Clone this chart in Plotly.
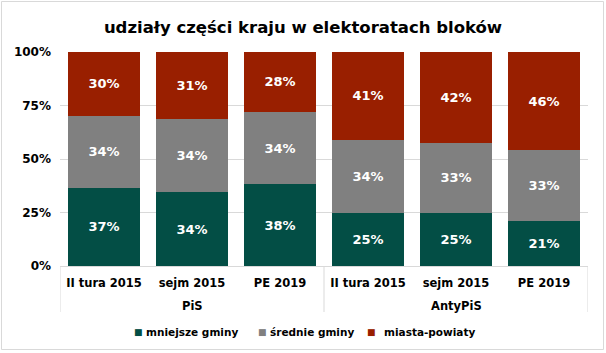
import plotly.graph_objects as go

group_names = ["PiS", "AntyPiS"]
groups = ["PiS", "PiS", "PiS", "AntyPiS", "AntyPiS", "AntyPiS"]
elections = ["II tura 2015", "sejm 2015", "PE 2019", "II tura 2015", "sejm 2015", "PE 2019"]
mniejsze = [36.6, 34.4, 38.2, 24.8, 24.8, 21.0]
srednie = [33.6, 34.3, 33.8, 34.2, 32.9, 33.0]
miasta = [29.8, 31.3, 28.0, 41.0, 42.3, 46.0]
series_names = ["mniejsze gminy", "średnie gminy", "miasta-powiaty"]
colors = ["#034E45", "#808080", "#991F00"]
y_ticks = [0, 25, 50, 75, 100]

W, H = 606, 353
ml, mr, mt, mb = 60, 18, 52, 87
pw = W - ml - mr
ph = H - mt - mb
FONT = "DejaVu Sans"

def px_x(p):
    return (p - ml) / pw

def px_y(p):
    return (mt + ph - p) / ph

xpos = list(range(len(elections)))

fig = go.Figure()
for name, vals, col in zip(series_names, [mniejsze, srednie, miasta], colors):
    fig.add_trace(go.Bar(
        x=xpos, y=vals, name=name,
        marker=dict(color=col, line=dict(width=0)),
        texttemplate="%{y:.0f}%", textposition="inside", insidetextanchor="middle",
        textfont=dict(family=FONT, size=13, color="white", weight="bold"),
        hoverinfo="skip", showlegend=False,
    ))

# outer chart border
fig.add_shape(type="rect", xref="paper", yref="paper",
              x0=px_x(1.5), x1=px_x(W - 2.5),
              y0=px_y(H - 3.5), y1=px_y(1.5),
              line=dict(color="#D9D9D9", width=1), fillcolor="rgba(0,0,0,0)", layer="below")

# group dividers
n_per_group = len(elections) // len(group_names)
for k in range(len(group_names) + 1):
    xd = k * n_per_group - 0.5
    fig.add_shape(type="line", xref="x", yref="paper", x0=xd, x1=xd,
                  y0=0, y1=px_y(312), line=dict(color="#D9D9D9", width=1))

# group labels
for k, g in enumerate(group_names):
    fig.add_annotation(x=k * n_per_group + (n_per_group - 1) / 2, xref="x",
                       y=px_y(306), yref="paper", text=g, showarrow=False,
                       xanchor="center", yanchor="middle",
                       font=dict(family=FONT, size=11.5, color="black", weight="bold"))

# legend (drawn as text)
leg_marker_x = [138.5, 262, 371]
leg_text_x = [144, 267.5, 381.5]
leg_y = px_y(331.5)
for name, col, mx, tx in zip(series_names, colors, leg_marker_x, leg_text_x):
    fig.add_annotation(x=px_x(mx), xref="paper", y=leg_y, yref="paper", text="■",
                       showarrow=False, xanchor="center", yanchor="middle",
                       font=dict(family=FONT, size=9, color=col))
    fig.add_annotation(x=px_x(tx), xref="paper", y=leg_y, yref="paper", text=name,
                       showarrow=False, xanchor="left", yanchor="middle",
                       font=dict(family=FONT, size=10.5, color="black", weight="bold"))

fig.update_layout(
    width=W, height=H, barmode="stack", bargap=0.18,
    margin=dict(l=ml, r=mr, t=mt, b=mb),
    paper_bgcolor="white", plot_bgcolor="white",
    font=dict(family=FONT, size=12, color="black", weight="bold"),
    title=dict(text="udziały części kraju w elektoratach bloków", x=0.5, xref="container",
               xanchor="center", y=1 - 27 / H, yanchor="middle",
               font=dict(family=FONT, size=16.5, color="black", weight="bold")),
    showlegend=False,
)
fig.update_xaxes(range=[-0.5, len(elections) - 0.5], tickvals=xpos, ticktext=elections,
                 showline=True, linecolor="#D9D9D9", linewidth=1,
                 tickfont=dict(family=FONT, size=11.5, color="black", weight="bold"),
                 ticks="", showgrid=False, zeroline=False, ticklabelstandoff=6)
fig.update_yaxes(range=[0, 100], tickvals=y_ticks, ticktext=[f"{v}%" for v in y_ticks],
                 showgrid=True, gridcolor="#D9D9D9", gridwidth=1, zeroline=False,
                 tickfont=dict(family=FONT, size=12, color="black", weight="bold"),
                 ticks="", ticklabelstandoff=8)

fig.write_html("out.html")
